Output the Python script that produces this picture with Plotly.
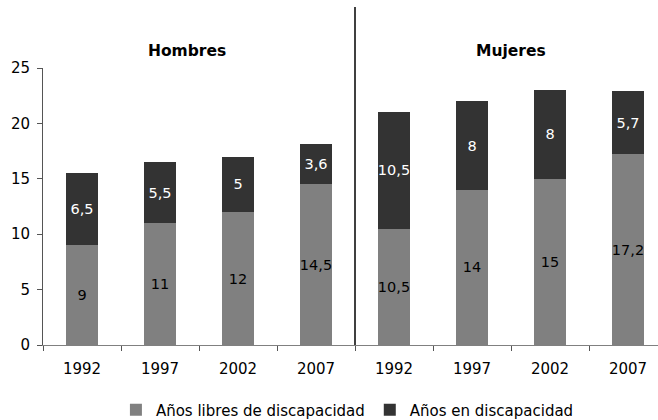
import plotly.graph_objects as go

groups = ["Hombres", "Mujeres"]
years = ["1992", "1997", "2002", "2007"]
hombres_libres = [9, 11, 12, 14.5]
hombres_disc = [6.5, 5.5, 5, 3.6]
mujeres_libres = [10.5, 14, 15, 17.2]
mujeres_disc = [10.5, 8, 8, 5.7]
y_ticks = [0, 5, 10, 15, 20, 25]

libres = hombres_libres + mujeres_libres
disc = hombres_disc + mujeres_disc
xpos = list(range(len(libres)))
xlabels = years + years


def fmt(v):
    return f"{v:g}".replace(".", ",")


FONT = "DejaVu Sans"
LIGHT = "#808080"
DARK = "#333333"

fig = go.Figure()
fig.add_trace(go.Bar(
    x=xpos, y=libres, name="Años libres de discapacidad",
    marker=dict(color=LIGHT, line=dict(width=0)),
    text=[fmt(v) for v in libres], textposition="inside", textangle=0,
    insidetextanchor="middle", constraintext="none",
    textfont=dict(family=FONT, size=14.5, color="#000000"),
    width=0.41,
))
fig.add_trace(go.Bar(
    x=xpos, y=disc, name="Años en discapacidad",
    marker=dict(color=DARK, line=dict(width=0)),
    text=[fmt(v) for v in disc], textposition="inside", textangle=0,
    insidetextanchor="middle", constraintext="none",
    textfont=dict(family=FONT, size=14.5, color="#ffffff"),
    width=0.41,
))

n_per_group = len(years)
for gi, g in enumerate(groups):
    fig.add_annotation(
        x=gi * n_per_group + (n_per_group - 1) / 2 - (0.15 if gi == 0 else 0),
        y=1.10, xref="x", yref="paper",
        text=f"<b>{g}</b>", showarrow=False,
        font=dict(family=FONT, size=15.5, color="#000000"),
    )

# divider between groups
fig.add_shape(type="line", xref="x", yref="paper",
              x0=n_per_group - 0.5, x1=n_per_group - 0.5, y0=0, y1=1.22,
              line=dict(color="#000000", width=1.5))

fig.update_layout(
    barmode="stack",
    width=658, height=420,
    margin=dict(l=43, r=0, t=68, b=75, autoexpand=False),
    paper_bgcolor="white", plot_bgcolor="white",
    font=dict(family=FONT, size=15, color="#000000"),
    showlegend=True,
    legend=dict(orientation="h", x=0.495, xanchor="center",
                y=-0.235, yanchor="middle", traceorder="normal",
                font=dict(family=FONT, size=15, color="#000000"),
                itemwidth=30, tracegroupgap=0),
    xaxis=dict(
        range=[-0.5, -0.5 + 615 / 78], automargin=False,
        tickvals=xpos, ticktext=xlabels, ticks="",
        showline=True, linecolor="#808080", linewidth=1,
        showgrid=False, zeroline=False,
        tickfont=dict(family=FONT, size=15, color="#000000"),
        ticklabelstandoff=10,
        minor=dict(tickvals=[i - 0.5 for i in range(len(libres) + 1)],
                   ticks="outside", ticklen=5, tickcolor="#555555",
                   tickwidth=1, showgrid=False),
    ),
    yaxis=dict(
        range=[0, 25], tickvals=y_ticks, automargin=False,
        ticks="outside", ticklen=5, tickcolor="#555555",
        showline=True, linecolor="#555555", linewidth=1,
        showgrid=False, zeroline=False,
        tickfont=dict(family=FONT, size=15, color="#000000"),
        ticklabelstandoff=4,
    ),
)

fig.write_html(
    "out.html",
    config={"displayModeBar": False},
    post_script="document.body.style.margin='0';document.body.style.overflow='hidden';",
)
